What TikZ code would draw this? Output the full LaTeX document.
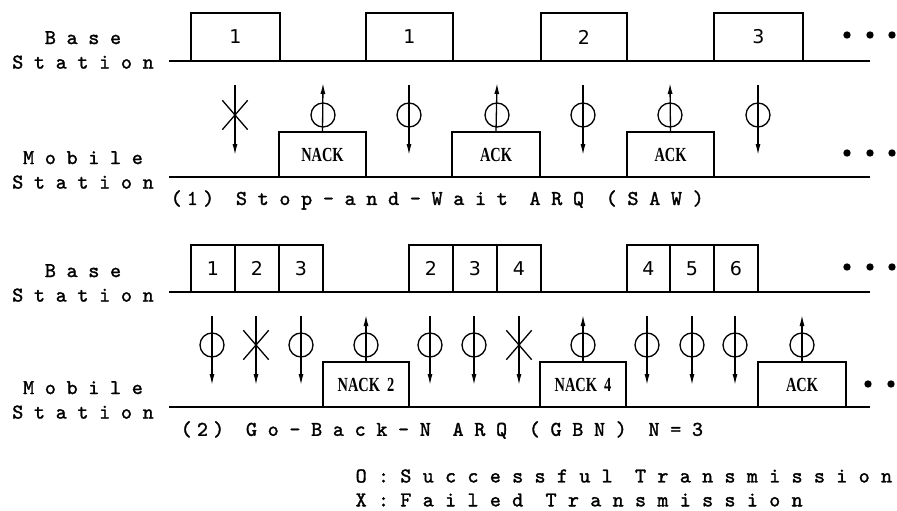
\documentclass[tikz,border=0pt]{standalone}
\usepackage{fontspec}
\setmainfont{Liberation Serif}
\newfontfamily\spfont[LetterSpace=51,FakeBold=1.5]{lmmono10-regular.otf}
\newfontfamily\tightfont[LetterSpace=25,FakeBold=1.5]{lmmono10-regular.otf}
\newfontfamily\legfont[LetterSpace=54,FakeBold=1.5]{lmmono10-regular.otf}
\newfontfamily\numfont{DejaVu Sans}
\newfontfamily\ackfont[FakeStretch=0.72]{Liberation Serif}
\usepackage{tikz}
\usetikzlibrary{arrows.meta, positioning, shapes.misc}

\begin{document}
\begin{tikzpicture}[
    x=1pt, y=-1pt,
    >={Latex[length=11pt,width=5pt]},
    line width=1.3pt,
    dot/.style={circle, fill, inner sep=2.6pt},
    ok/.style={circle, draw, minimum size=24pt, inner sep=0pt},
    fail/.style={cross out, draw, minimum width=24pt, minimum height=28pt, inner sep=0pt},
    frame/.style={draw, rectangle, anchor=south west, inner sep=0pt, outer sep=0pt,
      minimum height=48pt, font=\numfont\fontsize{19}{19}\selectfont},
    reply/.style={draw, rectangle, anchor=south west, inner sep=0pt, outer sep=0pt,
      minimum height=45pt, font=\ackfont\bfseries\fontsize{20}{20}\selectfont},
    lbl/.style={align=center, inner sep=0pt, font=\spfont\fontsize{21}{24.5}\selectfont},
    caption/.style={anchor=west, inner sep=0pt, font=\spfont\fontsize{21}{24}\selectfont},
    legend/.style={anchor=west, inner sep=0pt, font=\legfont\fontsize{21}{24}\selectfont},
    time/.style={line width=1.8pt}
  ]
  \useasboundingbox (0,0) rectangle (897,511);

  % ---- (1) SAW ----
  % Stations
  \node[lbl] (bs1) at (83,50)  {Base\\Station};
  \node[lbl] (ms1) at (83,170) {Mobile\\Station};
  \draw[time] (169,61)  -- (870,61);
  \draw[time] (169,177) -- (870,177);

  % Frames
  \node[frame, minimum width=89pt] (f1) at (191,61) {1};
  \node[frame, minimum width=87pt] (f2) at (366,61) {1};
  \node[frame, minimum width=86pt] (f3) at (541,61) {2};
  \node[frame, minimum width=89pt] (f4) at (714,61) {3};

  % Replies
  \node[reply, minimum width=87pt] (nack) at (279,177) {NACK};
  \node[reply, minimum width=88pt] (ack1) at (452,177) {ACK};
  \node[reply, minimum width=87pt] (ack2) at (627,177) {ACK};

  % Transmissions
  \node[fail] (x1) at (235,115) {};
  \node[ok]   (o1) at (323,115) {};
  \node[ok]   (o2) at (409,115) {};
  \node[ok]   (o3) at (497,115) {};
  \node[ok]   (o4) at (583,115) {};
  \node[ok]   (o5) at (670,115) {};
  \node[ok]   (o6) at (758,115) {};
  \draw[->] ([yshift=30pt]x1.center) -- ([yshift=-40pt]x1.center);
  \draw[->] (nack.north) -- ([yshift=32pt]o1.center);
  \draw[->] ([yshift=30pt]o2.center) -- ([yshift=-40pt]o2.center);
  \draw[->] (ack1.north) -- ([yshift=32pt]o3.center);
  \draw[->] ([yshift=30pt]o4.center) -- ([yshift=-40pt]o4.center);
  \draw[->] (ack2.north) -- ([yshift=32pt]o5.center);
  \draw[->] ([yshift=30pt]o6.center) -- ([yshift=-40pt]o6.center);

  % Continuation
  \node[dot] (bd1) at (847,35) {};
  \node[dot] (bd2) at (870,35) {};
  \node[dot] (bd3) at (892,35) {};
  \node[dot] (md1) at (847,153) {};
  \node[dot] (md2) at (870,153) {};
  \node[dot] (md3) at (892,153) {};

  \node[caption] (cap1) at (170,200) {{\tightfont(1)} Stop-and-Wait ARQ (SAW)};

  % ---- (2) GBN ----
  % Stations
  \node[lbl] (bs2) at (83,283)  {Base\\Station};
  \node[lbl] (ms2) at (83,400) {Mobile\\Station};
  \draw[time] (169,292) -- (870,292);
  \draw[time] (169,407) -- (870,407);

  % Frames
  \node[frame, minimum width=44pt, minimum height=47pt] (g1) at (191,292) {1};
  \node[frame, minimum width=44pt, minimum height=47pt] (g2) at (235,292) {2};
  \node[frame, minimum width=44pt, minimum height=47pt] (g3) at (279,292) {3};
  \node[frame, minimum width=44pt, minimum height=47pt] (g4) at (409,292) {2};
  \node[frame, minimum width=44pt, minimum height=47pt] (g5) at (453,292) {3};
  \node[frame, minimum width=44pt, minimum height=47pt] (g6) at (497,292) {4};
  \node[frame, minimum width=43pt, minimum height=47pt] (g7) at (627,292) {4};
  \node[frame, minimum width=44pt, minimum height=47pt] (g8) at (670,292) {5};
  \node[frame, minimum width=44pt, minimum height=47pt] (g9) at (714,292) {6};

  % Replies
  \node[reply, minimum width=86pt] (nack2) at (323,407) {NACK\ \ 2};
  \node[reply, minimum width=86pt] (nack4) at (540,407) {NACK\ \ 4};
  \node[reply, minimum width=88pt] (ack3)  at (758,407) {ACK};

  % Transmissions
  \node[ok]   (p1)  at (212,345) {};
  \node[fail] (y1)  at (256,345) {};
  \node[ok]   (p2)  at (301,345) {};
  \node[ok]   (p3)  at (366,345) {};
  \node[ok]   (p4)  at (430,345) {};
  \node[ok]   (p5)  at (474,345) {};
  \node[fail] (y2)  at (519,345) {};
  \node[ok]   (p6)  at (583,345) {};
  \node[ok]   (p7)  at (647,345) {};
  \node[ok]   (p8)  at (692,345) {};
  \node[ok]   (p9)  at (735,345) {};
  \node[ok]   (p10) at (802,345) {};
  \draw[->] ([yshift=29pt]p1.center) -- ([yshift=-40pt]p1.center);
  \draw[->] ([yshift=29pt]y1.center) -- ([yshift=-40pt]y1.center);
  \draw[->] ([yshift=29pt]p2.center) -- ([yshift=-40pt]p2.center);
  \draw[->] (nack2.north) -- ([yshift=30pt]p3.center);
  \draw[->] ([yshift=29pt]p4.center) -- ([yshift=-40pt]p4.center);
  \draw[->] ([yshift=29pt]p5.center) -- ([yshift=-40pt]p5.center);
  \draw[->] ([yshift=29pt]y2.center) -- ([yshift=-40pt]y2.center);
  \draw[->] (nack4.north) -- ([yshift=30pt]p6.center);
  \draw[->] ([yshift=29pt]p7.center) -- ([yshift=-40pt]p7.center);
  \draw[->] ([yshift=29pt]p8.center) -- ([yshift=-40pt]p8.center);
  \draw[->] ([yshift=29pt]p9.center) -- ([yshift=-40pt]p9.center);
  \draw[->] (ack3.north) -- ([yshift=30pt]p10.center);

  % Continuation
  \node[dot] (bd4) at (847,267) {};
  \node[dot] (bd5) at (870,267) {};
  \node[dot] (bd6) at (892,267) {};
  \node[dot] (md4) at (868,384) {};
  \node[dot] (md5) at (891,384) {};

  \node[caption] (cap2) at (180,430) {{\tightfont(2)} Go-Back-N ARQ (GBN) N=3};

  % Legend
  \node[legend] (leg1) at (355,476) {O:Successful Transmission};
  \node[legend] (leg2) at (355,500) {X:Failed Transmission};
\end{tikzpicture}
\end{document}
